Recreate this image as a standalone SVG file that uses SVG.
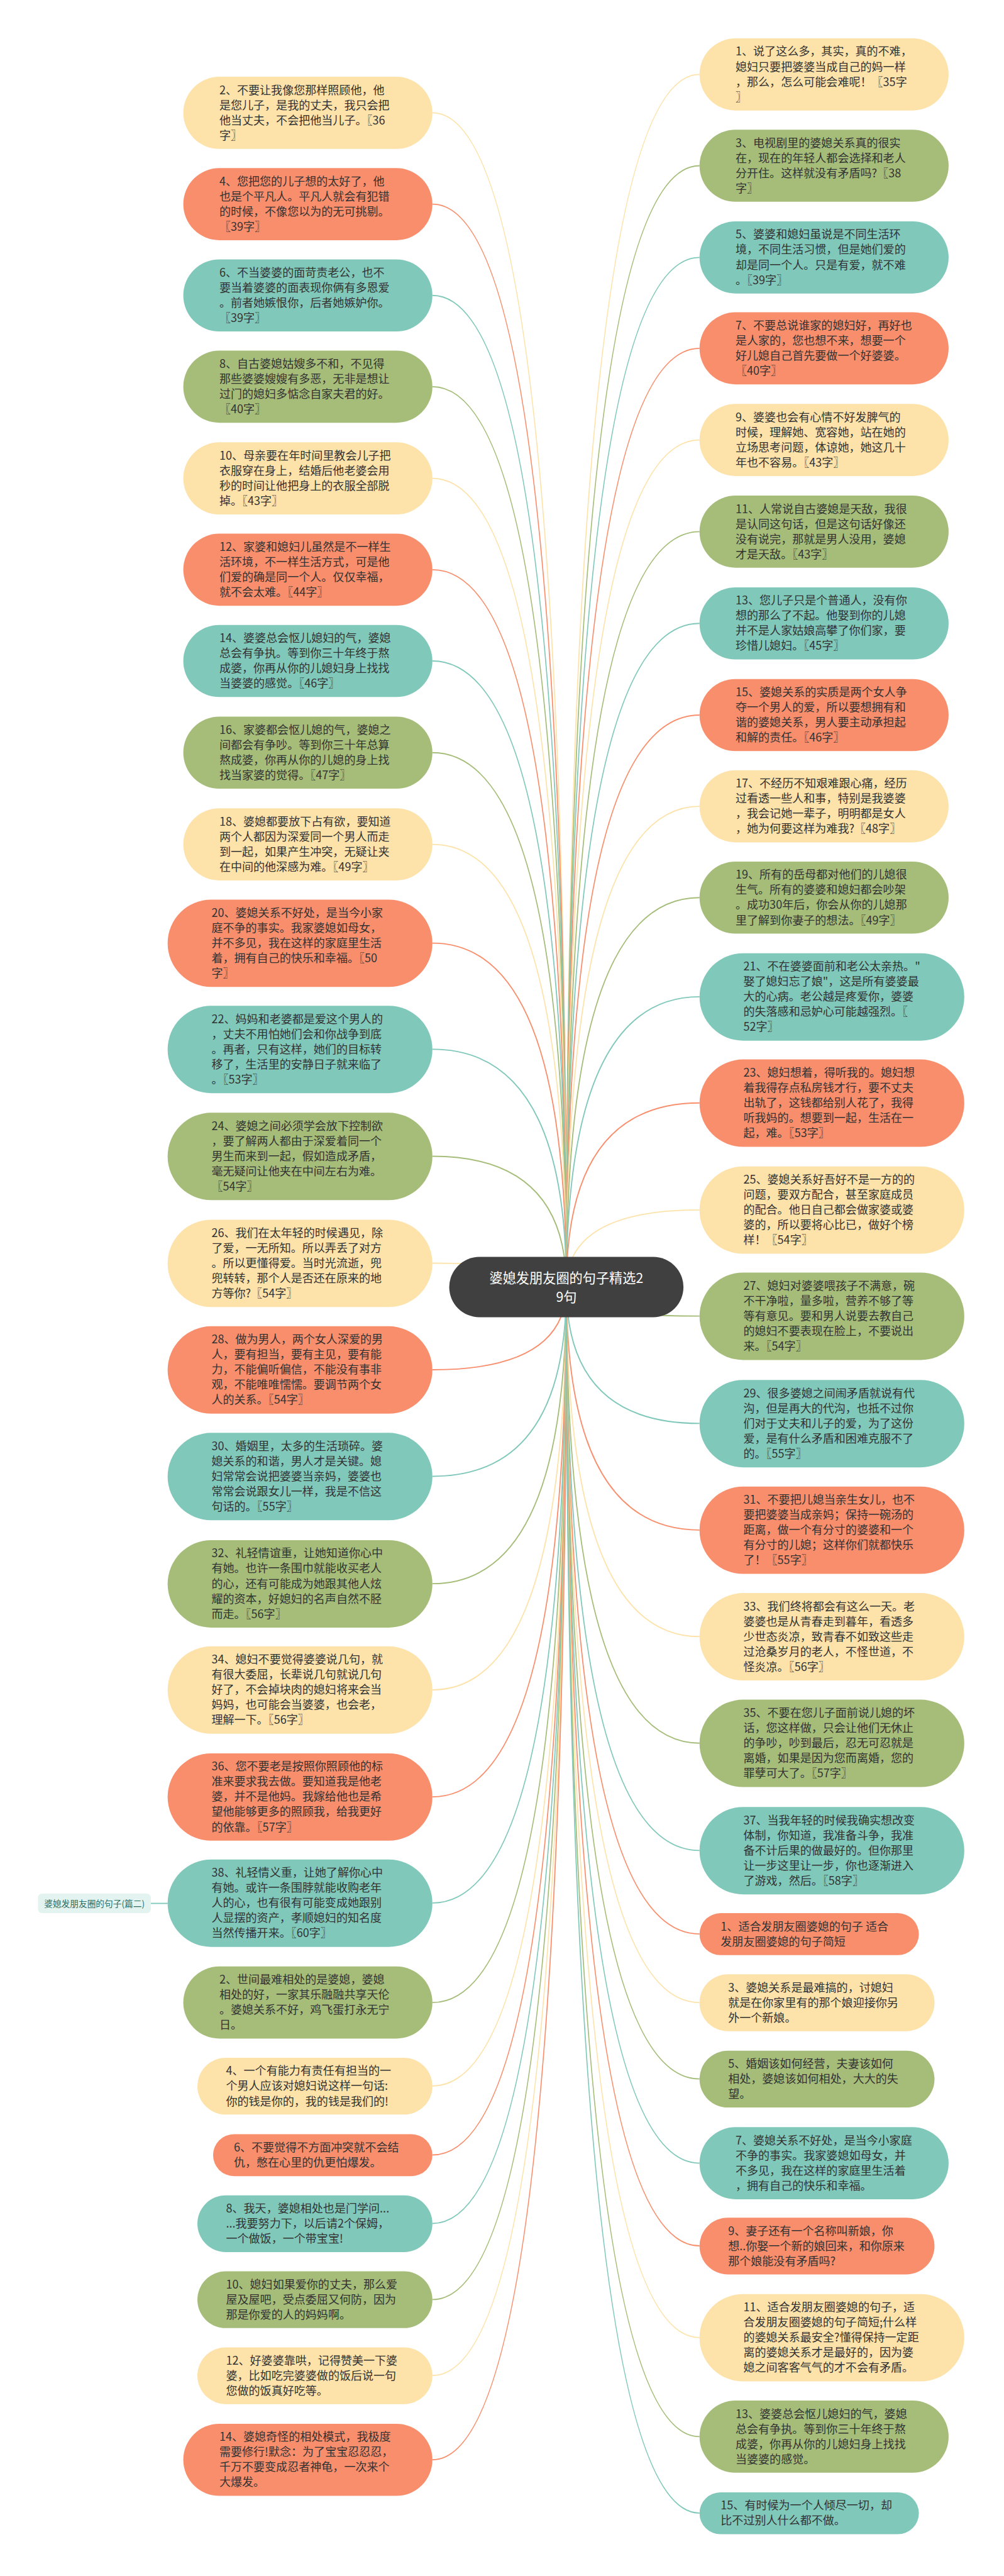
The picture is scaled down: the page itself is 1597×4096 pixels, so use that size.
<svg xmlns="http://www.w3.org/2000/svg" width="1597" height="4096" viewBox="0 0 1597 4096">
<style>
.t{font-family:"Noto Sans CJK SC","Noto Sans",sans-serif;font-size:29px;fill:#333}
.fy{fill:#FDE2A9}.fo{fill:#F98E6C}.fc{fill:#80C8BA}.fg{fill:#A5BD79}
.sy{stroke:#FDE2A9}.so{stroke:#F98E6C}.sc{stroke:#80C8BA}.sg{stroke:#A5BD79}
#links path{fill:none;stroke-width:3}
.ct{font-family:"Noto Sans CJK SC","Noto Sans",sans-serif;font-size:34px;fill:#fff}
.st{font-family:"Noto Sans CJK SC","Noto Sans",sans-serif;font-size:22px;fill:#2d6e64}
</style>
<rect width="1597" height="4096" fill="#fff"/>
<g transform="scale(0.623)">
<g id="links">
<path class="sy" d="M1446 3285Q1446 288 1104 288"/>
<path class="so" d="M1446 3285Q1446 521 1104 521"/>
<path class="sc" d="M1446 3285Q1446 754 1104 754"/>
<path class="sg" d="M1446 3285Q1446 987 1104 987"/>
<path class="sy" d="M1446 3285Q1446 1221 1104 1221"/>
<path class="so" d="M1446 3285Q1446 1454 1104 1454"/>
<path class="sc" d="M1446 3285Q1446 1687 1104 1687"/>
<path class="sg" d="M1446 3285Q1446 1921 1104 1921"/>
<path class="sy" d="M1446 3285Q1446 2155 1104 2155"/>
<path class="so" d="M1446 3285Q1446 2407 1104 2407"/>
<path class="sc" d="M1446 3285Q1446 2678 1104 2678"/>
<path class="sg" d="M1446 3285Q1446 2951 1104 2951"/>
<path class="sy" d="M1446 3285Q1446 3224 1104 3224"/>
<path class="so" d="M1446 3285Q1446 3496 1104 3496"/>
<path class="sc" d="M1446 3285Q1446 3768 1104 3768"/>
<path class="sg" d="M1446 3285Q1446 4042 1104 4042"/>
<path class="sy" d="M1446 3285Q1446 4313 1104 4313"/>
<path class="so" d="M1446 3285Q1446 4586 1104 4586"/>
<path class="sc" d="M1446 3285Q1446 4857 1104 4857"/>
<path class="sg" d="M1446 3285Q1446 5111 1104 5111"/>
<path class="sy" d="M1446 3285Q1446 5324 1104 5324"/>
<path class="so" d="M1446 3285Q1446 5500 1104 5500"/>
<path class="sc" d="M1446 3285Q1446 5675 1104 5675"/>
<path class="sg" d="M1446 3285Q1446 5869 1104 5869"/>
<path class="sy" d="M1446 3285Q1446 6063 1104 6063"/>
<path class="so" d="M1446 3285Q1446 6278 1104 6278"/>
<path class="sy" d="M1446 3285Q1446 190 1786 190"/>
<path class="sg" d="M1446 3285Q1446 423 1786 423"/>
<path class="sc" d="M1446 3285Q1446 657 1786 657"/>
<path class="so" d="M1446 3285Q1446 889 1786 889"/>
<path class="sy" d="M1446 3285Q1446 1123 1786 1123"/>
<path class="sg" d="M1446 3285Q1446 1357 1786 1357"/>
<path class="sc" d="M1446 3285Q1446 1591 1786 1591"/>
<path class="so" d="M1446 3285Q1446 1825 1786 1825"/>
<path class="sy" d="M1446 3285Q1446 2058 1786 2058"/>
<path class="sg" d="M1446 3285Q1446 2291 1786 2291"/>
<path class="sc" d="M1446 3285Q1446 2544 1786 2544"/>
<path class="so" d="M1446 3285Q1446 2815 1786 2815"/>
<path class="sy" d="M1446 3285Q1446 3088 1786 3088"/>
<path class="sg" d="M1446 3285Q1446 3359 1786 3359"/>
<path class="sc" d="M1446 3285Q1446 3633 1786 3633"/>
<path class="so" d="M1446 3285Q1446 3905 1786 3905"/>
<path class="sy" d="M1446 3285Q1446 4177 1786 4177"/>
<path class="sg" d="M1446 3285Q1446 4449 1786 4449"/>
<path class="sc" d="M1446 3285Q1446 4723 1786 4723"/>
<path class="so" d="M1446 3285Q1446 4936 1786 4936"/>
<path class="sy" d="M1446 3285Q1446 5111 1786 5111"/>
<path class="sg" d="M1446 3285Q1446 5306 1786 5306"/>
<path class="sc" d="M1446 3285Q1446 5521 1786 5521"/>
<path class="so" d="M1446 3285Q1446 5732 1786 5732"/>
<path class="sy" d="M1446 3285Q1446 5966 1786 5966"/>
<path class="sg" d="M1446 3285Q1446 6219 1786 6219"/>
<path class="sc" d="M1446 3285Q1446 6414 1786 6414"/>
<path class="sc" d="M385 4858H428"/>
</g>

<g id="L2"><rect class="fy" x="468" y="196" width="636" height="184" rx="92"/><text class="t" y="240"><tspan x="560">2、不要让我像您那样照顾他，他</tspan><tspan x="560" dy="38.6">是您儿子，是我的丈夫，我只会把</tspan><tspan x="560" dy="38.6">他当丈夫，不会把他当儿子。〖36</tspan><tspan x="560" dy="38.6">字〗</tspan></text></g>
<g id="L4"><rect class="fo" x="468" y="429" width="636" height="184" rx="92"/><text class="t" y="473"><tspan x="560">4、您把您的儿子想的太好了，他</tspan><tspan x="560" dy="38.6">也是个平凡人。平凡人就会有犯错</tspan><tspan x="560" dy="38.6">的时候，不像您以为的无可挑剔。</tspan><tspan x="560" dy="38.6">〖39字〗</tspan></text></g>
<g id="L6"><rect class="fc" x="468" y="662" width="636" height="184" rx="92"/><text class="t" y="706"><tspan x="560">6、不当婆婆的面苛责老公，也不</tspan><tspan x="560" dy="38.6">要当着婆婆的面表现你俩有多恩爱</tspan><tspan x="560" dy="38.6">。前者她嫉恨你，后者她嫉妒你。</tspan><tspan x="560" dy="38.6">〖39字〗</tspan></text></g>
<g id="L8"><rect class="fg" x="468" y="895" width="636" height="184" rx="92"/><text class="t" y="939"><tspan x="560">8、自古婆媳姑嫂多不和，不见得</tspan><tspan x="560" dy="38.6">那些婆婆嫂嫂有多恶，无非是想让</tspan><tspan x="560" dy="38.6">过门的媳妇多惦念自家夫君的好。</tspan><tspan x="560" dy="38.6">〖40字〗</tspan></text></g>
<g id="L10"><rect class="fy" x="468" y="1129" width="636" height="184" rx="92"/><text class="t" y="1173"><tspan x="560">10、母亲要在年时间里教会儿子把</tspan><tspan x="560" dy="38.6">衣服穿在身上，结婚后他老婆会用</tspan><tspan x="560" dy="38.6">秒的时间让他把身上的衣服全部脱</tspan><tspan x="560" dy="38.6">掉。〖43字〗</tspan></text></g>
<g id="L12"><rect class="fo" x="468" y="1362" width="636" height="184" rx="92"/><text class="t" y="1406"><tspan x="560">12、家婆和媳妇儿虽然是不一样生</tspan><tspan x="560" dy="38.6">活环境，不一样生活方式，可是他</tspan><tspan x="560" dy="38.6">们爱的确是同一个人。仅仅幸福，</tspan><tspan x="560" dy="38.6">就不会太难。〖44字〗</tspan></text></g>
<g id="L14"><rect class="fc" x="468" y="1595" width="636" height="184" rx="92"/><text class="t" y="1639"><tspan x="560">14、婆婆总会怄儿媳妇的气，婆媳</tspan><tspan x="560" dy="38.6">总会有争执。等到你三十年终于熬</tspan><tspan x="560" dy="38.6">成婆，你再从你的儿媳妇身上找找</tspan><tspan x="560" dy="38.6">当婆婆的感觉。〖46字〗</tspan></text></g>
<g id="L16"><rect class="fg" x="468" y="1829" width="636" height="184" rx="92"/><text class="t" y="1873"><tspan x="560">16、家婆都会怄儿媳的气，婆媳之</tspan><tspan x="560" dy="38.6">间都会有争吵。等到你三十年总算</tspan><tspan x="560" dy="38.6">熬成婆，你再从你的儿媳的身上找</tspan><tspan x="560" dy="38.6">找当家婆的觉得。〖47字〗</tspan></text></g>
<g id="L18"><rect class="fy" x="468" y="2063" width="636" height="184" rx="92"/><text class="t" y="2107"><tspan x="560">18、婆媳都要放下占有欲，要知道</tspan><tspan x="560" dy="38.6">两个人都因为深爱同一个男人而走</tspan><tspan x="560" dy="38.6">到一起，如果产生冲突，无疑让夹</tspan><tspan x="560" dy="38.6">在中间的他深感为难。〖49字〗</tspan></text></g>
<g id="L20"><rect class="fo" x="428" y="2296" width="676" height="223" rx="111.5"/><text class="t" y="2340"><tspan x="540">20、婆媳关系不好处，是当今小家</tspan><tspan x="540" dy="38.6">庭不争的事实。我家婆媳如母女，</tspan><tspan x="540" dy="38.6">并不多见，我在这样的家庭里生活</tspan><tspan x="540" dy="38.6">着，拥有自己的快乐和幸福。〖50</tspan><tspan x="540" dy="38.6">字〗</tspan></text></g>
<g id="L22"><rect class="fc" x="428" y="2567" width="676" height="223" rx="111.5"/><text class="t" y="2611"><tspan x="540">22、妈妈和老婆都是爱这个男人的</tspan><tspan x="540" dy="38.6">，丈夫不用怕她们会和你战争到底</tspan><tspan x="540" dy="38.6">。再者，只有这样，她们的目标转</tspan><tspan x="540" dy="38.6">移了，生活里的安静日子就来临了</tspan><tspan x="540" dy="38.6">。〖53字〗</tspan></text></g>
<g id="L24"><rect class="fg" x="428" y="2840" width="676" height="223" rx="111.5"/><text class="t" y="2884"><tspan x="540">24、婆媳之间必须学会放下控制欲</tspan><tspan x="540" dy="38.6">，要了解两人都由于深爱着同一个</tspan><tspan x="540" dy="38.6">男生而来到一起，假如造成矛盾，</tspan><tspan x="540" dy="38.6">毫无疑问让他夹在中间左右为难。</tspan><tspan x="540" dy="38.6">〖54字〗</tspan></text></g>
<g id="L26"><rect class="fy" x="428" y="3113" width="676" height="223" rx="111.5"/><text class="t" y="3157"><tspan x="540">26、我们在太年轻的时候遇见，除</tspan><tspan x="540" dy="38.6">了爱，一无所知。所以弄丢了对方</tspan><tspan x="540" dy="38.6">。所以更懂得爱。当时光流逝，兜</tspan><tspan x="540" dy="38.6">兜转转，那个人是否还在原来的地</tspan><tspan x="540" dy="38.6">方等你?〖54字〗</tspan></text></g>
<g id="L28"><rect class="fo" x="428" y="3385" width="676" height="223" rx="111.5"/><text class="t" y="3429"><tspan x="540">28、做为男人，两个女人深爱的男</tspan><tspan x="540" dy="38.6">人，要有担当，要有主见，要有能</tspan><tspan x="540" dy="38.6">力，不能偏听偏信，不能没有事非</tspan><tspan x="540" dy="38.6">观，不能唯唯懦懦。要调节两个女</tspan><tspan x="540" dy="38.6">人的关系。〖54字〗</tspan></text></g>
<g id="L30"><rect class="fc" x="428" y="3657" width="676" height="223" rx="111.5"/><text class="t" y="3701"><tspan x="540">30、婚姻里，太多的生活琐碎。婆</tspan><tspan x="540" dy="38.6">媳关系的和谐，男人才是关键。媳</tspan><tspan x="540" dy="38.6">妇常常会说把婆婆当亲妈，婆婆也</tspan><tspan x="540" dy="38.6">常常会说跟女儿一样，我是不信这</tspan><tspan x="540" dy="38.6">句话的。〖55字〗</tspan></text></g>
<g id="L32"><rect class="fg" x="428" y="3931" width="676" height="223" rx="111.5"/><text class="t" y="3975"><tspan x="540">32、礼轻情谊重，让她知道你心中</tspan><tspan x="540" dy="38.6">有她。也许一条围巾就能收买老人</tspan><tspan x="540" dy="38.6">的心，还有可能成为她跟其他人炫</tspan><tspan x="540" dy="38.6">耀的资本，好媳妇的名声自然不胫</tspan><tspan x="540" dy="38.6">而走。〖56字〗</tspan></text></g>
<g id="L34"><rect class="fy" x="428" y="4202" width="676" height="223" rx="111.5"/><text class="t" y="4246"><tspan x="540">34、媳妇不要觉得婆婆说几句，就</tspan><tspan x="540" dy="38.6">有很大委屈，长辈说几句就说几句</tspan><tspan x="540" dy="38.6">好了，不会掉块肉的媳妇将来会当</tspan><tspan x="540" dy="38.6">妈妈，也可能会当婆婆，也会老，</tspan><tspan x="540" dy="38.6">理解一下。〖56字〗</tspan></text></g>
<g id="L36"><rect class="fo" x="428" y="4475" width="676" height="223" rx="111.5"/><text class="t" y="4519"><tspan x="540">36、您不要老是按照你照顾他的标</tspan><tspan x="540" dy="38.6">准来要求我去做。要知道我是他老</tspan><tspan x="540" dy="38.6">婆，并不是他妈。我嫁给他也是希</tspan><tspan x="540" dy="38.6">望他能够更多的照顾我，给我更好</tspan><tspan x="540" dy="38.6">的依靠。〖57字〗</tspan></text></g>
<g id="L38"><rect class="fc" x="428" y="4746" width="676" height="223" rx="111.5"/><text class="t" y="4790"><tspan x="540">38、礼轻情义重，让她了解你心中</tspan><tspan x="540" dy="38.6">有她。或许一条围脖就能收购老年</tspan><tspan x="540" dy="38.6">人的心，也有很有可能变成她跟别</tspan><tspan x="540" dy="38.6">人显摆的资产，孝顺媳妇的知名度</tspan><tspan x="540" dy="38.6">当然传播开来。〖60字〗</tspan></text></g>
<g id="LB2"><rect class="fg" x="468" y="5019" width="636" height="184" rx="92"/><text class="t" y="5063"><tspan x="560">2、世间最难相处的是婆媳，婆媳</tspan><tspan x="560" dy="38.6">相处的好，一家其乐融融共享天伦</tspan><tspan x="560" dy="38.6">。婆媳关系不好，鸡飞蛋打永无宁</tspan><tspan x="560" dy="38.6">日。</tspan></text></g>
<g id="LB4"><rect class="fy" x="504" y="5252" width="600" height="145" rx="72.5"/><text class="t" y="5296"><tspan x="577">4、一个有能力有责任有担当的一</tspan><tspan x="577" dy="38.6">个男人应该对媳妇说这样一句话:</tspan><tspan x="577" dy="38.6">你的钱是你的，我的钱是我们的!</tspan></text></g>
<g id="LB6"><rect class="fo" x="544" y="5447" width="560" height="107" rx="53.5"/><text class="t" y="5491"><tspan x="597">6、不要觉得不方面冲突就不会结</tspan><tspan x="597" dy="38.6">仇，憋在心里的仇更怕爆发。</tspan></text></g>
<g id="LB8"><rect class="fc" x="504" y="5603" width="600" height="145" rx="72.5"/><text class="t" y="5647"><tspan x="577">8、我天，婆媳相处也是门学问...</tspan><tspan x="577" dy="38.6">...我要努力下，以后请2个保姆，</tspan><tspan x="577" dy="38.6">一个做饭，一个带宝宝!</tspan></text></g>
<g id="LB10"><rect class="fg" x="504" y="5797" width="600" height="145" rx="72.5"/><text class="t" y="5841"><tspan x="577">10、媳妇如果爱你的丈夫，那么爱</tspan><tspan x="577" dy="38.6">屋及屋吧，受点委屈又何防，因为</tspan><tspan x="577" dy="38.6">那是你爱的人的妈妈啊。</tspan></text></g>
<g id="LB12"><rect class="fy" x="504" y="5991" width="600" height="145" rx="72.5"/><text class="t" y="6035"><tspan x="577">12、好婆婆靠哄，记得赞美一下婆</tspan><tspan x="577" dy="38.6">婆，比如吃完婆婆做的饭后说一句</tspan><tspan x="577" dy="38.6">您做的饭真好吃等。</tspan></text></g>
<g id="LB14"><rect class="fo" x="468" y="6186" width="636" height="184" rx="92"/><text class="t" y="6230"><tspan x="560">14、婆媳奇怪的相处模式，我极度</tspan><tspan x="560" dy="38.6">需要修行!默念：为了宝宝忍忍忍，</tspan><tspan x="560" dy="38.6">千万不要变成忍者神龟，一次来个</tspan><tspan x="560" dy="38.6">大爆发。</tspan></text></g>

<g id="R1"><rect class="fy" x="1786" y="98" width="636" height="184" rx="92"/><text class="t" y="142"><tspan x="1878">1、说了这么多，其实，真的不难，</tspan><tspan x="1878" dy="38.6">媳妇只要把婆婆当成自己的妈一样</tspan><tspan x="1878" dy="38.6">，那么，怎么可能会难呢！〖35字</tspan><tspan x="1878" dy="38.6">〗</tspan></text></g>
<g id="R3"><rect class="fg" x="1786" y="331" width="636" height="184" rx="92"/><text class="t" y="375"><tspan x="1878">3、电视剧里的婆媳关系真的很实</tspan><tspan x="1878" dy="38.6">在，现在的年轻人都会选择和老人</tspan><tspan x="1878" dy="38.6">分开住。这样就没有矛盾吗?〖38</tspan><tspan x="1878" dy="38.6">字〗</tspan></text></g>
<g id="R5"><rect class="fc" x="1786" y="565" width="636" height="184" rx="92"/><text class="t" y="609"><tspan x="1878">5、婆婆和媳妇虽说是不同生活环</tspan><tspan x="1878" dy="38.6">境，不同生活习惯，但是她们爱的</tspan><tspan x="1878" dy="38.6">却是同一个人。只是有爱，就不难</tspan><tspan x="1878" dy="38.6">。〖39字〗</tspan></text></g>
<g id="R7"><rect class="fo" x="1786" y="797" width="636" height="184" rx="92"/><text class="t" y="841"><tspan x="1878">7、不要总说谁家的媳妇好，再好也</tspan><tspan x="1878" dy="38.6">是人家的，您也想不来，想要一个</tspan><tspan x="1878" dy="38.6">好儿媳自己首先要做一个好婆婆。</tspan><tspan x="1878" dy="38.6">〖40字〗</tspan></text></g>
<g id="R9"><rect class="fy" x="1786" y="1031" width="636" height="184" rx="92"/><text class="t" y="1075"><tspan x="1878">9、婆婆也会有心情不好发脾气的</tspan><tspan x="1878" dy="38.6">时候，理解她、宽容她，站在她的</tspan><tspan x="1878" dy="38.6">立场思考问题，体谅她，她这几十</tspan><tspan x="1878" dy="38.6">年也不容易。〖43字〗</tspan></text></g>
<g id="R11"><rect class="fg" x="1786" y="1265" width="636" height="184" rx="92"/><text class="t" y="1309"><tspan x="1878">11、人常说自古婆媳是天敌，我很</tspan><tspan x="1878" dy="38.6">是认同这句话，但是这句话好像还</tspan><tspan x="1878" dy="38.6">没有说完，那就是男人没用，婆媳</tspan><tspan x="1878" dy="38.6">才是天敌。〖43字〗</tspan></text></g>
<g id="R13"><rect class="fc" x="1786" y="1499" width="636" height="184" rx="92"/><text class="t" y="1543"><tspan x="1878">13、您儿子只是个普通人，没有你</tspan><tspan x="1878" dy="38.6">想的那么了不起。他娶到你的儿媳</tspan><tspan x="1878" dy="38.6">并不是人家姑娘高攀了你们家，要</tspan><tspan x="1878" dy="38.6">珍惜儿媳妇。〖45字〗</tspan></text></g>
<g id="R15"><rect class="fo" x="1786" y="1733" width="636" height="184" rx="92"/><text class="t" y="1777"><tspan x="1878">15、婆媳关系的实质是两个女人争</tspan><tspan x="1878" dy="38.6">夺一个男人的爱，所以要想拥有和</tspan><tspan x="1878" dy="38.6">谐的婆媳关系，男人要主动承担起</tspan><tspan x="1878" dy="38.6">和解的责任。〖46字〗</tspan></text></g>
<g id="R17"><rect class="fy" x="1786" y="1966" width="636" height="184" rx="92"/><text class="t" y="2010"><tspan x="1878">17、不经历不知艰难跟心痛，经历</tspan><tspan x="1878" dy="38.6">过看透一些人和事，特别是我婆婆</tspan><tspan x="1878" dy="38.6">，我会记她一辈子，明明都是女人</tspan><tspan x="1878" dy="38.6">，她为何要这样为难我?〖48字〗</tspan></text></g>
<g id="R19"><rect class="fg" x="1786" y="2199" width="636" height="184" rx="92"/><text class="t" y="2243"><tspan x="1878">19、所有的岳母都对他们的儿媳很</tspan><tspan x="1878" dy="38.6">生气。所有的婆婆和媳妇都会吵架</tspan><tspan x="1878" dy="38.6">。成功30年后，你会从你的儿媳那</tspan><tspan x="1878" dy="38.6">里了解到你妻子的想法。〖49字〗</tspan></text></g>
<g id="R21"><rect class="fc" x="1786" y="2433" width="676" height="223" rx="111.5"/><text class="t" y="2477"><tspan x="1898">21、不在婆婆面前和老公太亲热。"</tspan><tspan x="1898" dy="38.6">娶了媳妇忘了娘"，这是所有婆婆最</tspan><tspan x="1898" dy="38.6">大的心病。老公越是疼爱你，婆婆</tspan><tspan x="1898" dy="38.6">的失落感和忌妒心可能越强烈。〖</tspan><tspan x="1898" dy="38.6">52字〗</tspan></text></g>
<g id="R23"><rect class="fo" x="1786" y="2704" width="676" height="223" rx="111.5"/><text class="t" y="2748"><tspan x="1898">23、媳妇想着，得听我的。媳妇想</tspan><tspan x="1898" dy="38.6">着我得存点私房钱才行，要不丈夫</tspan><tspan x="1898" dy="38.6">出轨了，这钱都给别人花了，我得</tspan><tspan x="1898" dy="38.6">听我妈的。想要到一起，生活在一</tspan><tspan x="1898" dy="38.6">起，难。〖53字〗</tspan></text></g>
<g id="R25"><rect class="fy" x="1786" y="2977" width="676" height="223" rx="111.5"/><text class="t" y="3021"><tspan x="1898">25、婆媳关系好吾好不是一方的的</tspan><tspan x="1898" dy="38.6">问题，要双方配合，甚至家庭成员</tspan><tspan x="1898" dy="38.6">的配合。他日自己都会做家婆或婆</tspan><tspan x="1898" dy="38.6">婆的，所以要将心比已，做好个榜</tspan><tspan x="1898" dy="38.6">样！〖54字〗</tspan></text></g>
<g id="R27"><rect class="fg" x="1786" y="3248" width="676" height="223" rx="111.5"/><text class="t" y="3292"><tspan x="1898">27、媳妇对婆婆喂孩子不满意，碗</tspan><tspan x="1898" dy="38.6">不干净啦，量多啦，营养不够了等</tspan><tspan x="1898" dy="38.6">等有意见。要和男人说要去教自己</tspan><tspan x="1898" dy="38.6">的媳妇不要表现在脸上，不要说出</tspan><tspan x="1898" dy="38.6">来。〖54字〗</tspan></text></g>
<g id="R29"><rect class="fc" x="1786" y="3522" width="676" height="223" rx="111.5"/><text class="t" y="3566"><tspan x="1898">29、很多婆媳之间闹矛盾就说有代</tspan><tspan x="1898" dy="38.6">沟，但是再大的代沟，也抵不过你</tspan><tspan x="1898" dy="38.6">们对于丈夫和儿子的爱，为了这份</tspan><tspan x="1898" dy="38.6">爱，是有什么矛盾和困难克服不了</tspan><tspan x="1898" dy="38.6">的。〖55字〗</tspan></text></g>
<g id="R31"><rect class="fo" x="1786" y="3794" width="676" height="223" rx="111.5"/><text class="t" y="3838"><tspan x="1898">31、不要把儿媳当亲生女儿，也不</tspan><tspan x="1898" dy="38.6">要把婆婆当成亲妈；保持一碗汤的</tspan><tspan x="1898" dy="38.6">距离，做一个有分寸的婆婆和一个</tspan><tspan x="1898" dy="38.6">有分寸的儿媳；这样你们就都快乐</tspan><tspan x="1898" dy="38.6">了！〖55字〗</tspan></text></g>
<g id="R33"><rect class="fy" x="1786" y="4066" width="676" height="223" rx="111.5"/><text class="t" y="4110"><tspan x="1898">33、我们终将都会有这么一天。老</tspan><tspan x="1898" dy="38.6">婆婆也是从青春走到暮年，看透多</tspan><tspan x="1898" dy="38.6">少世态炎凉，致青春不如致这些走</tspan><tspan x="1898" dy="38.6">过沧桑岁月的老人，不怪世道，不</tspan><tspan x="1898" dy="38.6">怪炎凉。〖56字〗</tspan></text></g>
<g id="R35"><rect class="fg" x="1786" y="4338" width="676" height="223" rx="111.5"/><text class="t" y="4382"><tspan x="1898">35、不要在您儿子面前说儿媳的坏</tspan><tspan x="1898" dy="38.6">话，您这样做，只会让他们无休止</tspan><tspan x="1898" dy="38.6">的争吵，吵到最后，忍无可忍就是</tspan><tspan x="1898" dy="38.6">离婚，如果是因为您而离婚，您的</tspan><tspan x="1898" dy="38.6">罪孽可大了。〖57字〗</tspan></text></g>
<g id="R37"><rect class="fc" x="1786" y="4612" width="676" height="223" rx="111.5"/><text class="t" y="4656"><tspan x="1898">37、当我年轻的时候我确实想改变</tspan><tspan x="1898" dy="38.6">体制，你知道，我准备斗争，我准</tspan><tspan x="1898" dy="38.6">备不计后果的做最好的。但你那里</tspan><tspan x="1898" dy="38.6">让一步这里让一步，你也逐渐进入</tspan><tspan x="1898" dy="38.6">了游戏，然后。〖58字〗</tspan></text></g>
<g id="RB1"><rect class="fo" x="1786" y="4883" width="560" height="107" rx="53.5"/><text class="t" y="4927"><tspan x="1840">1、适合发朋友圈婆媳的句子 适合</tspan><tspan x="1840" dy="38.6">发朋友圈婆媳的句子简短</tspan></text></g>
<g id="RB3"><rect class="fy" x="1786" y="5039" width="600" height="145" rx="72.5"/><text class="t" y="5083"><tspan x="1859">3、婆媳关系是最难搞的，讨媳妇</tspan><tspan x="1859" dy="38.6">就是在你家里有的那个娘迎接你另</tspan><tspan x="1859" dy="38.6">外一个新娘。</tspan></text></g>
<g id="RB5"><rect class="fg" x="1786" y="5234" width="600" height="145" rx="72.5"/><text class="t" y="5278"><tspan x="1859">5、婚姻该如何经营，夫妻该如何</tspan><tspan x="1859" dy="38.6">相处，婆媳该如何相处，大大的失</tspan><tspan x="1859" dy="38.6">望。</tspan></text></g>
<g id="RB7"><rect class="fc" x="1786" y="5429" width="636" height="184" rx="92"/><text class="t" y="5473"><tspan x="1878">7、婆媳关系不好处，是当今小家庭</tspan><tspan x="1878" dy="38.6">不争的事实。我家婆媳如母女，并</tspan><tspan x="1878" dy="38.6">不多见，我在这样的家庭里生活着</tspan><tspan x="1878" dy="38.6">，拥有自己的快乐和幸福。</tspan></text></g>
<g id="RB9"><rect class="fo" x="1786" y="5660" width="600" height="145" rx="72.5"/><text class="t" y="5704"><tspan x="1859">9、妻子还有一个名称叫新娘，你</tspan><tspan x="1859" dy="38.6">想..你娶一个新的娘回来，和你原来</tspan><tspan x="1859" dy="38.6">那个娘能没有矛盾吗?</tspan></text></g>
<g id="RB11"><rect class="fy" x="1786" y="5855" width="676" height="223" rx="111.5"/><text class="t" y="5899"><tspan x="1898">11、适合发朋友圈婆媳的句子，适</tspan><tspan x="1898" dy="38.6">合发朋友圈婆媳的句子简短;什么样</tspan><tspan x="1898" dy="38.6">的婆媳关系最安全?懂得保持一定距</tspan><tspan x="1898" dy="38.6">离的婆媳关系才是最好的，因为婆</tspan><tspan x="1898" dy="38.6">媳之间客客气气的才不会有矛盾。</tspan></text></g>
<g id="RB13"><rect class="fg" x="1786" y="6127" width="636" height="184" rx="92"/><text class="t" y="6171"><tspan x="1878">13、婆婆总会怄儿媳妇的气，婆媳</tspan><tspan x="1878" dy="38.6">总会有争执。等到你三十年终于熬</tspan><tspan x="1878" dy="38.6">成婆，你再从你的儿媳妇身上找找</tspan><tspan x="1878" dy="38.6">当婆婆的感觉。</tspan></text></g>
<g id="RB15"><rect class="fc" x="1786" y="6361" width="560" height="107" rx="53.5"/><text class="t" y="6405"><tspan x="1840">15、有时候为一个人倾尽一切，却</tspan><tspan x="1840" dy="38.6">比不过别人什么都不做。</tspan></text></g>

<g id="sub"><rect x="97" y="4833" width="288" height="50" rx="10" fill="#e3f3ef"/><text class="st" x="241" y="4866" text-anchor="middle">婆媳发朋友圈的句子(篇二)</text></g>
<g id="center"><rect x="1147" y="3208" width="598" height="154" rx="77" fill="#404040"/><text class="ct" text-anchor="middle"><tspan x="1446" y="3274">婆媳发朋友圈的句子精选2</tspan><tspan x="1446" y="3322">9句</tspan></text></g>
</g>
</svg>
